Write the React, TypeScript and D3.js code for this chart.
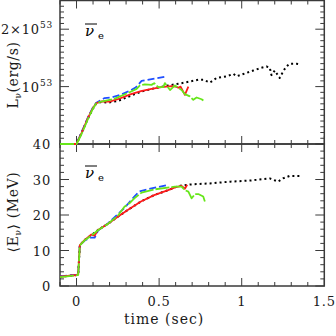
import React from "react";
import * as d3 from "d3";

// ---------- data ----------
// Top panel: luminosity (units of 1e53 erg/s)
const blackT_L = [-0.1, 0.0, 0.03, 0.07, 0.1, 0.12, 0.15, 0.19, 0.25, 0.31, 0.39, 0.47, 0.555, 0.636, 0.687, 0.737, 0.767, 0.808, 0.848, 0.909, 0.95, 0.97, 1.01, 1.07, 1.11, 1.15, 1.17, 1.18, 1.2, 1.23, 1.25, 1.27, 1.293, 1.33, 1.35];
const blackL = [0, 0, 0.19, 0.45, 0.62, 0.71, 0.73, 0.72, 0.75, 0.82, 0.91, 0.97, 1.02, 1.06, 1.09, 1.12, 1.12, 1.07, 1.15, 1.18, 1.22, 1.18, 1.22, 1.28, 1.32, 1.35, 1.33, 1.2, 1.28, 1.15, 1.26, 1.35, 1.4, 1.4, 1.39];
const redT_L = [-0.1, 0.0, 0.03, 0.07, 0.1, 0.12, 0.15, 0.2, 0.25, 0.33, 0.39, 0.454, 0.515, 0.575, 0.6, 0.616, 0.63, 0.656, 0.677];
const redL = [0, 0, 0.19, 0.46, 0.63, 0.71, 0.74, 0.74, 0.78, 0.87, 0.92, 0.96, 0.99, 1.01, 1.0, 0.98, 1.0, 0.855, 1.0];
const blueT_L = [-0.1, 0.0, 0.03, 0.07, 0.1, 0.12, 0.17, 0.21, 0.27, 0.33, 0.36, 0.394, 0.455, 0.535, 0.545];
const blueL = [0, 0, 0.2, 0.47, 0.64, 0.72, 0.8, 0.81, 0.86, 0.94, 0.99, 1.1, 1.13, 1.17, 1.18];
const greenT_L = [-0.1, 0.0, 0.03, 0.07, 0.1, 0.12, 0.15, 0.232, 0.313, 0.364, 0.384, 0.414, 0.454, 0.47, 0.495, 0.525, 0.535, 0.566, 0.596, 0.636, 0.656, 0.686, 0.707, 0.727, 0.757, 0.777];
const greenL = [0, 0, 0.17, 0.44, 0.62, 0.71, 0.74, 0.79, 0.89, 0.96, 1.02, 1.04, 1.03, 1.06, 0.99, 0.99, 1.06, 0.94, 1.02, 0.94, 0.87, 0.83, 0.77, 0.81, 0.78, 0.74];

// Bottom panel: mean energy (MeV)
const blackT_E = [-0.1, 0.0, 0.01, 0.02, 0.05, 0.09, 0.13, 0.19, 0.25, 0.31, 0.39, 0.47, 0.555, 0.596, 0.636, 0.687, 0.808, 0.93, 1.05, 1.17, 1.22, 1.25, 1.29, 1.33, 1.35];
const blackE = [2.6, 3.1, 3.2, 11.5, 13.0, 14.3, 15.8, 17.5, 19.5, 21.4, 23.8, 25.6, 27.0, 27.8, 28.3, 28.6, 28.9, 29.4, 29.7, 30.3, 29.4, 30.3, 31.0, 31.0, 31.0];
const redT_E = [-0.1, 0.0, 0.01, 0.02, 0.05, 0.09, 0.11, 0.13, 0.19, 0.25, 0.31, 0.39, 0.47, 0.555, 0.596, 0.636, 0.656, 0.67];
const redE = [2.6, 3.1, 3.2, 11.5, 13.0, 14.5, 14.2, 15.8, 17.5, 19.5, 21.4, 23.8, 25.6, 27.0, 27.8, 28.2, 27.4, 28.5];
const blueT_E = [-0.1, 0.0, 0.01, 0.02, 0.05, 0.08, 0.11, 0.13, 0.19, 0.25, 0.29, 0.35, 0.38, 0.454, 0.555];
const blueE = [2.7, 3.2, 3.3, 11.4, 12.8, 13.6, 13.6, 15.6, 17.6, 20.2, 22.0, 25.2, 26.6, 27.5, 28.5];
const greenT_E = [-0.1, 0.0, 0.01, 0.02, 0.05, 0.09, 0.13, 0.19, 0.25, 0.29, 0.32, 0.35, 0.394, 0.47, 0.596, 0.636, 0.656, 0.677, 0.697, 0.717, 0.737, 0.767, 0.777];
const greenE = [2.5, 3.0, 3.1, 11.4, 12.9, 14.2, 15.7, 17.5, 19.8, 22.3, 23.3, 24.7, 26.3, 27.2, 28.0, 28.0, 27.0, 26.6, 24.7, 25.9, 25.9, 25.2, 23.8];

const xTicksMajor = [0, 0.5, 1, 1.5];
const xTickLabels = ["0", "0.5", "1", "1.5"];
const eTicksMajor = [0, 10, 20, 30, 40];
const eTickLabels = ["0", "10", "20", "30", "40"];
const lTicksMajor = [1, 2];
const lTickPrefix = ["10", "2×10"];
const lTickExp = "53";

// ---------- layout ----------
const W = 336;
const H = 336;
const left = 60;
const right = 324.3;
const topY = 0.5;
const midY = 144;
const botY = 286;
const FONT = "DejaVu Serif";
const AXIS = "#3a3a3a";

const COLORS = { black: "#000000", red: "#ff1a1a", blue: "#1f4fff", green: "#66e61a" };

export default function App() {
  const x = d3.scaleLinear().domain([-0.1, 1.5]).range([left, right]);
  const yL = d3.scaleLinear().domain([0, 2.5]).range([midY, topY]);
  const yE = d3.scaleLinear().domain([0, 40]).range([botY, midY]);

  const mk = (ts: number[], vs: number[], y: d3.ScaleLinear<number, number>) =>
    d3.line<number>().x((_, i) => x(ts[i])).y((v) => y(v))(vs) || "";

  const xMinor = d3.range(-0.1, 1.5001, 0.1).map((v) => +v.toFixed(2));
  const lMinor = d3.range(0, 2.5001, 0.1).map((v) => +v.toFixed(2));
  const eMinor = d3.range(0, 40.001, 2);

  const isMajorX = (v: number) => Math.abs(v * 2 - Math.round(v * 2)) < 1e-6;
  const isMajorL = (v: number) => Math.abs(v - Math.round(v)) < 1e-6;
  const isMajorE = (v: number) => v % 10 === 0;

  const styles = {
    black: { stroke: COLORS.black, strokeWidth: 2, strokeDasharray: "2,3" },
    blue: { stroke: COLORS.blue, strokeWidth: 1.8, strokeDasharray: "7,3" },
    red: { stroke: COLORS.red, strokeWidth: 1.8 },
    green: { stroke: COLORS.green, strokeWidth: 1.8, strokeDasharray: "14,2" },
  };

  const panelTicks = (y0: number, y1: number) => (
    <g stroke={AXIS} strokeWidth={1}>
      {xMinor.map((v, i) => {
        const len = isMajorX(v) ? 8 : 4;
        return (
          <g key={i}>
            <line x1={x(v)} x2={x(v)} y1={y1} y2={y1 - len} />
            <line x1={x(v)} x2={x(v)} y1={y0} y2={y0 + len} />
          </g>
        );
      })}
    </g>
  );

  const nuLabel = (lx: number, ly: number) => (
    <g fontFamily={FONT}>
      <text x={lx} y={ly} fontSize={15} fontStyle="italic">ν</text>
      <line x1={lx} x2={lx + 12} y1={ly - 12} y2={ly - 12} stroke="#000" strokeWidth={1} />
      <text x={lx + 13} y={ly + 3} fontSize={10}>e</text>
    </g>
  );

  return (
    <svg width={W} height={H} style={{ position: "absolute", left: 0, top: 0, background: "#fff" }}>
      <defs>
        <clipPath id="clipTop"><rect x={left} y={topY} width={right - left} height={midY - topY + 1.5} /></clipPath>
        <clipPath id="clipBot"><rect x={left} y={midY} width={right - left} height={botY - midY} /></clipPath>
      </defs>

      {/* ticks */}
      {panelTicks(topY, midY)}
      {panelTicks(midY, botY)}
      <g stroke={AXIS} strokeWidth={1}>
        {lMinor.map((v, i) => {
          const len = isMajorL(v) ? 9 : 4;
          return (
            <g key={i}>
              <line x1={left} x2={left + len} y1={yL(v)} y2={yL(v)} />
              <line x1={right} x2={right - len} y1={yL(v)} y2={yL(v)} />
            </g>
          );
        })}
        {eMinor.map((v, i) => {
          const len = isMajorE(v) ? 9 : 4;
          return (
            <g key={i}>
              <line x1={left} x2={left + len} y1={yE(v)} y2={yE(v)} />
              <line x1={right} x2={right - len} y1={yE(v)} y2={yE(v)} />
            </g>
          );
        })}
      </g>

      {/* frames */}
      <g fill="none" stroke={AXIS} strokeWidth={1.5}>
        <rect x={left} y={topY} width={right - left} height={midY - topY} />
        <rect x={left} y={midY} width={right - left} height={botY - midY} />
      </g>

      {/* data top */}
      <g clipPath="url(#clipTop)" fill="none" strokeLinejoin="round">
        <path d={mk(blackT_L, blackL, yL)} {...styles.black} />
        <path d={mk(blueT_L, blueL, yL)} {...styles.blue} />
        <path d={mk(redT_L, redL, yL)} {...styles.red} />
        <path d={mk(greenT_L, greenL, yL)} {...styles.green} />
      </g>
      {/* data bottom */}
      <g clipPath="url(#clipBot)" fill="none" strokeLinejoin="round">
        <path d={mk(blackT_E, blackE, yE)} {...styles.black} />
        <path d={mk(blueT_E, blueE, yE)} {...styles.blue} />
        <path d={mk(redT_E, redE, yE)} {...styles.red} />
        <path d={mk(greenT_E, greenE, yE)} {...styles.green} />
      </g>

      {/* tick labels */}
      <g fontFamily={FONT} fontSize={13} fill="#1a1a1a" letterSpacing={0.8}>
        {xTicksMajor.map((v, i) => (
          <text key={i} x={x(v)} y={306} textAnchor="middle">{xTickLabels[i]}</text>
        ))}
        {eTicksMajor.map((v, i) => (
          <text key={i} x={51} y={yE(v) + 5} textAnchor="end">{eTickLabels[i]}</text>
        ))}
        {lTicksMajor.map((v, i) => (
          <text key={i} x={53} y={yL(v) + 5} textAnchor="end">
            {lTickPrefix[i]}
            <tspan fontSize={9} dy={-6}>{lTickExp}</tspan>
          </text>
        ))}
      </g>

      {/* axis titles */}
      <text x={x(0.5) + 5} y={324} fontFamily={FONT} fontSize={14} letterSpacing={1} textAnchor="middle" fill="#1a1a1a">time (sec)</text>
      <text transform={`translate(18,75) rotate(-90)`} fontFamily={FONT} fontSize={14} textAnchor="middle" fill="#1a1a1a" letterSpacing={0.6}>
        L<tspan fontSize={9} dy={3}>ν</tspan><tspan dy={-3}>(erg/s)</tspan>
      </text>
      <text transform={`translate(18,212) rotate(-90)`} fontFamily={FONT} fontSize={14} textAnchor="middle" fill="#1a1a1a" letterSpacing={0.6}>
        ⟨E<tspan fontSize={9} dy={3}>ν</tspan><tspan dy={-3}>⟩ (MeV)</tspan>
      </text>

      {nuLabel(85, 36)}
      {nuLabel(85, 178)}
    </svg>
  );
}
